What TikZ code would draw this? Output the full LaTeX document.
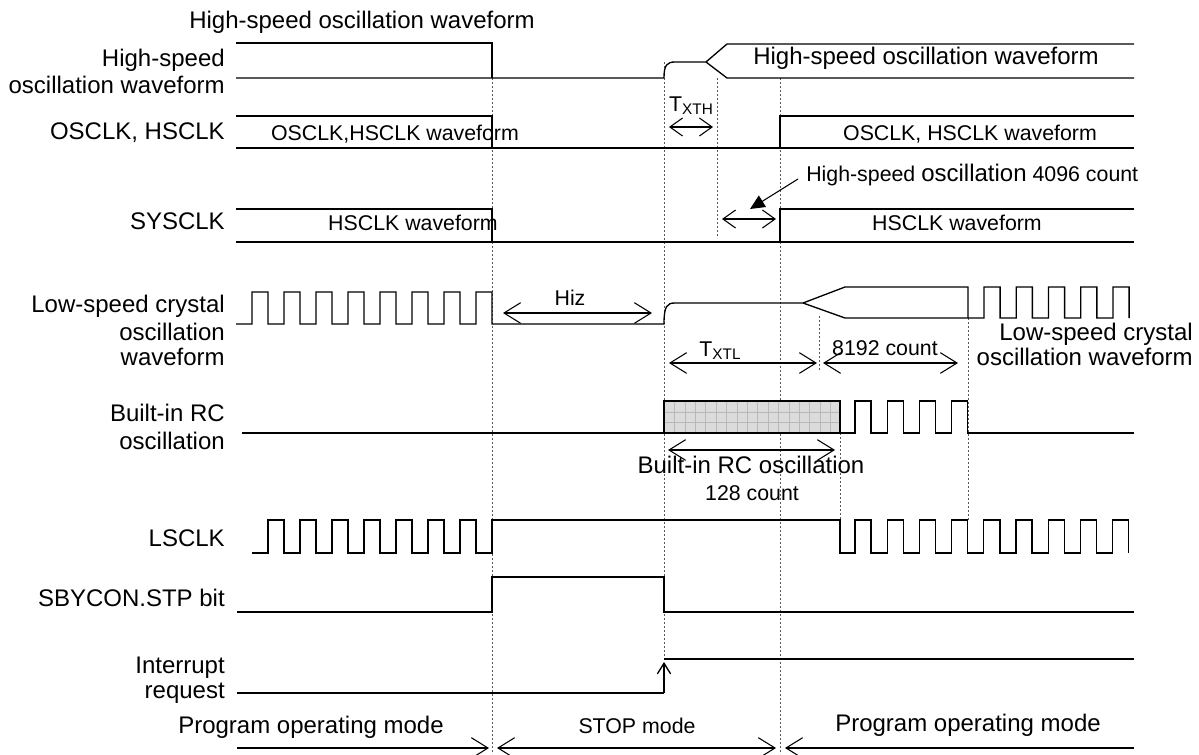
\documentclass[tikz,border=0pt]{standalone}
\usepackage{fontspec}
\setmainfont{Liberation Sans}
\usetikzlibrary{arrows.meta}
\tikzset{
  sig/.style={line width=1pt, line join=miter},
  guide/.style={black!65, line width=0.6pt, dash pattern=on 1.6pt off 1.4pt},
  lbl/.style={font=\fontsize{18}{20}\selectfont, inner sep=0pt, anchor=mid east},
  big/.style={font=\fontsize{18}{20}\selectfont, inner sep=0pt, anchor=mid},
  sm/.style={font=\fontsize{16}{18}\selectfont, inner sep=0pt, anchor=mid},
  barb/.tip={Straight Barb[length=12.5pt,width=15.5pt]},
  sbarb/.tip={Straight Barb[length=9.5pt,width=13.5pt]},
  dim/.style={line width=0.8pt},
}
\newcommand{\subtxt}[1]{\raisebox{-2.2pt}{\fontsize{11.5}{12}\selectfont #1}}
\begin{document}
\begin{tikzpicture}[x=0.75pt,y=-0.75pt]
\useasboundingbox (0,0) rectangle (1199,754);
% guide lines
\draw[guide] (492,78) -- (492,754);
\draw[guide] (664,62) -- (664,660);
\draw[guide] (717,78) -- (717,238);
\draw[guide] (780,78) -- (780,754);
\draw[guide] (819,316) -- (819,370);
\draw[guide] (840,433) -- (840,520);
\draw[guide] (968,318) -- (968,520);

% Row 1: high-speed oscillation
\node[big] (t0) at (362,25) {High-speed oscillation waveform};
\node[lbl] (l1a) at (225,63) {High-speed};
\node[lbl] (l1b) at (225,90) {oscillation waveform};
\draw[sig] (236,43) -- (492,43) -- (492,78);
\draw[sig] (236,78) -- (664,78) .. controls (664,65) and (667,62) .. (675,62) -- (706,62) -- (727,44) -- (1134,44);
\draw[sig] (706,62) -- (727,78) -- (1134,78);
\node[big] (t1) at (926,61) {High-speed oscillation waveform};

% Row 2: OSCLK, HSCLK
\node[lbl] (l2) at (225,136) {OSCLK, HSCLK};
\draw[sig] (236,116) -- (492,116) -- (492,148);
\draw[sig] (236,148) -- (1134,148);
\draw[sig] (780,148) -- (780,116) -- (1134,116);
\node[sm] (t2a) at (395,137) {OSCLK,HSCLK waveform};
\node[sm] (t2b) at (970,137) {OSCLK, HSCLK waveform};
\node[sm] (txth) at (691,108) {T\subtxt{XTH}};
\coordinate (xh1) at (669,127);
\coordinate (xh2) at (713,127);
\draw[dim, sbarb-sbarb] (xh1) -- (xh2);

% 4096 count annotation
\node[font=\fontsize{16}{18}\selectfont, inner sep=0pt, anchor=mid west] (t4096) at (806,178) {High-speed {\fontsize{18}{20}\selectfont oscillation} 4096 count};
\coordinate (a4096) at (798,179);
\coordinate (b4096) at (750,209);
\draw[dim, -{Triangle[length=11pt,width=10pt]}] (a4096) -- (b4096);

% Row 3: SYSCLK
\node[lbl] (l3) at (225,226) {SYSCLK};
\draw[sig] (236,209) -- (492,209) -- (492,242);
\draw[sig] (236,242) -- (1134,242);
\draw[sig] (780,242) -- (780,209) -- (1134,209);
\node[sm] (t3a) at (413,227) {HSCLK waveform};
\node[sm] (t3b) at (957,227) {HSCLK waveform};
\coordinate (s1) at (722,219);
\coordinate (s2) at (776,219);
\draw[dim, sbarb-sbarb] (s1) -- (s2);

% Row 4: low-speed crystal
\node[lbl] (l4a) at (225,309) {Low-speed crystal};
\node[lbl] (l4b) at (225,337) {oscillation};
\node[lbl] (l4c) at (225,362) {waveform};
\draw[sig] (236,324) foreach \k in {0,...,7} { -- ({252+32*\k},324) -- ({252+32*\k},292) -- ({268+32*\k},292) -- ({268+32*\k},324) }
  -- (664,324) .. controls (664,306) and (667,303) .. (675,303) -- (803,303) -- (845,287) -- (968,287) -- (968,318);
\draw[sig] (803,303) -- (845,318) -- (968,318) foreach \k in {0,...,4} { -- ({984+32.25*\k},318) -- ({984+32.25*\k},287) -- ({1000.1+32.25*\k},287) -- ({1000.1+32.25*\k},318) };
\node[sm] (hiz) at (570,302) {Hiz};
\coordinate (h1) at (503,313);
\coordinate (h2) at (652,313);
\draw[dim, barb-barb] (h1) -- (h2);
\node[sm] (txtl) at (720,353) {T\subtxt{XTL}};
\coordinate (xl1) at (669,363);
\coordinate (xl2) at (817,363);
\draw[dim, barb-barb] (xl1) -- (xl2);
\node[sm] (t8192) at (885,352) {8192 count};
\coordinate (c1) at (823,363);
\coordinate (c2) at (958,363);
\draw[dim, barb-barb] (c1) -- (c2);
\node[lbl] (r4a) at (1193,337) {Low-speed crystal};
\node[lbl] (r4b) at (1193,362) {oscillation waveform};

% Row 5: built-in RC
\node[lbl] (l5a) at (225,418) {Built-in RC};
\node[lbl] (l5b) at (225,446) {oscillation};
\fill[black!14] (664,401) rectangle (840,433);
\foreach \i in {1,...,16} \draw[black!28, line width=0.3pt] ({664+\i*10.4},401) -- ({664+\i*10.4},433);
\foreach \j in {411.7,422.3} \draw[black!28, line width=0.3pt] (664,\j) -- (840,\j);
\draw[sig] (664,401) rectangle (840,433);
\draw[sig] (242,433) -- (664,433);
\draw[sig] (840,433) foreach \k in {0,...,3} { -- ({855+32.2*\k},433) -- ({855+32.2*\k},401) -- ({871.1+32.2*\k},401) -- ({871.1+32.2*\k},433) } -- (1134,433);
\coordinate (rc1) at (668,450);
\coordinate (rc2) at (835,450);
\draw[dim, barb-barb] (rc1) -- (rc2);
\node[big] (trc) at (751,470) {Built-in RC oscillation};
\node[sm] (t128) at (752,497) {128 count};

% Row 6: LSCLK
\node[lbl] (l6) at (225,543) {LSCLK};
\draw[sig] (252,553) foreach \k in {0,...,6} { -- ({268+32*\k},553) -- ({268+32*\k},520) -- ({284+32*\k},520) -- ({284+32*\k},553) }
  -- (492,553) -- (492,520) -- (840,520) -- (840,553)
  foreach \k in {0,...,8} { -- ({855+32.2*\k},553) -- ({855+32.2*\k},520) -- ({871.1+32.2*\k},520) -- ({871.1+32.2*\k},553) };

% Row 7: SBYCON.STP
\node[lbl] (l7) at (225,603) {SBYCON.STP bit};
\draw[sig] (237,612) -- (492,612) -- (492,577) -- (664,577) -- (664,612) -- (1134,612);

% Row 8: interrupt request
\node[lbl] (l8a) at (225,670) {Interrupt};
\node[lbl] (l8b) at (225,695) {request};
\draw[sig] (237,693) -- (664,693);
\draw[sig, -{Straight Barb[length=8pt,width=10pt]}] (664,693) -- (664,662);
\draw[sig] (664,659) -- (1134,659);

% Modes
\node[big] (m1) at (311,730) {Program operating mode};
\node[sm] (m2) at (637,730) {STOP mode};
\node[big] (m3) at (968,728) {Program operating mode};
\coordinate (ma) at (237,748);
\coordinate (mb) at (489,748);
\coordinate (mc) at (497,748);
\coordinate (md) at (776,748);
\coordinate (me) at (785,748);
\coordinate (mf) at (1134,748);
\draw[dim, -barb] (ma) -- (mb);
\draw[dim, barb-barb] (mc) -- (md);
\draw[dim, barb-] (me) -- (mf);
\end{tikzpicture}
\end{document}
